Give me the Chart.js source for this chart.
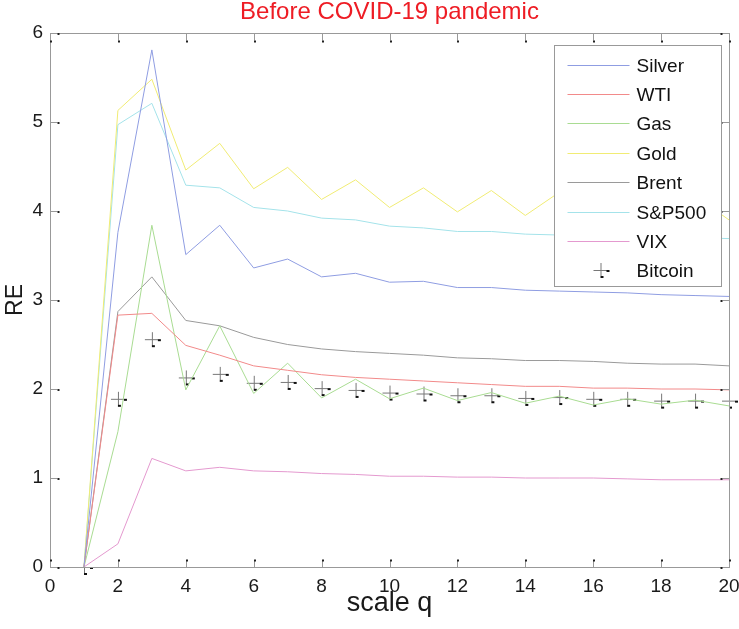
<!DOCTYPE html>
<html>
<head>
<meta charset="utf-8">
<title>Before COVID-19 pandemic</title>
<script src="https://cdn.jsdelivr.net/npm/chart.js@4.4.0/dist/chart.umd.min.js"></script>
<style>
	body { margin: 0; background: #fff; }
	canvas { display: block; }
</style>
</head>
<body>
<canvas id="myChart" width="739" height="629"></canvas>
<script>
	// values, one entry per scale q
	var scaleQ = [1, 2, 3, 4, 5, 6, 7, 8, 9, 10, 11, 12, 13, 14, 15, 16, 17, 18, 19, 20];

	var silver  = [0, 3.76, 5.81, 3.51, 3.84, 3.36, 3.46, 3.26, 3.30, 3.20, 3.21, 3.14, 3.14, 3.11, 3.10, 3.09, 3.08, 3.06, 3.05, 3.04];
	var wti     = [0, 2.83, 2.85, 2.49, 2.38, 2.26, 2.21, 2.16, 2.13, 2.11, 2.09, 2.07, 2.05, 2.03, 2.03, 2.01, 2.01, 2.00, 2.00, 1.99];
	var gas     = [0, 1.52, 3.84, 1.99, 2.71, 1.95, 2.29, 1.90, 2.11, 1.89, 2.01, 1.87, 1.96, 1.84, 1.92, 1.82, 1.89, 1.83, 1.875, 1.81];
	var gold    = [0, 5.13, 5.48, 4.46, 4.76, 4.25, 4.49, 4.13, 4.35, 4.04, 4.26, 3.99, 4.23, 3.95, 4.21, 3.93, 4.19, 3.91, 4.17, 3.90];
	var brent   = [0, 2.87, 3.26, 2.77, 2.71, 2.58, 2.50, 2.45, 2.42, 2.40, 2.38, 2.35, 2.34, 2.32, 2.32, 2.31, 2.29, 2.28, 2.28, 2.26];
	var sp500   = [0, 4.97, 5.21, 4.29, 4.26, 4.04, 4.00, 3.92, 3.90, 3.83, 3.81, 3.77, 3.77, 3.74, 3.73, 3.72, 3.71, 3.70, 3.70, 3.69];
	var vix     = [0, 0.26, 1.22, 1.08, 1.12, 1.08, 1.07, 1.05, 1.04, 1.02, 1.02, 1.01, 1.01, 1.00, 1.00, 1.00, 0.99, 0.98, 0.98, 0.98];
	var bitcoin = [0, 1.89, 2.56, 2.13, 2.17, 2.07, 2.08, 2.01, 1.99, 1.96, 1.95, 1.93, 1.93, 1.90, 1.91, 1.89, 1.89, 1.87, 1.87, 1.87];

	var seriesNames = ['Silver', 'WTI', 'Gas', 'Gold', 'Brent', 'S&P500', 'VIX', 'Bitcoin'];
	var seriesColors = ['#8f9de2', '#f28a8a', '#a9dc92', '#f1ec74', '#9a9a9a', '#a4e3ea', '#e499cf', '#555555'];
	var seriesValues = [silver, wti, gas, gold, brent, sp500, vix, bitcoin];

	var xTicks = [0, 2, 4, 6, 8, 10, 12, 14, 16, 18, 20];
	var yTicks = [0, 1, 2, 3, 4, 5, 6];

	var FONT = "'Liberation Sans', Arial, Helvetica, sans-serif";
	var AXIS_GRAY = '#999999';

	function toPoints(vals) {
		return vals.map(function(v, i) { return { x: scaleQ[i], y: v }; });
	}

	// the '+' marker used for Bitcoin, with the little dark dashes of the original export
	function makeCrossMarker() {
		var c = document.createElement('canvas');
		c.width = 22;
		c.height = 22;
		var g = c.getContext('2d');
		g.strokeStyle = '#777';
		g.lineWidth = 1;
		g.beginPath();
		g.moveTo(4, 11.5); g.lineTo(18, 11.5);
		g.moveTo(11.5, 4); g.lineTo(11.5, 18);
		g.stroke();
		g.fillStyle = '#111';
		g.fillRect(17, 11, 3, 2);
		g.fillRect(11, 17, 3, 2);
		return c;
	}
	var crossMarker = makeCrossMarker();

	var datasets = seriesNames.map(function(name, i) {
		var ds = {
			label: name,
			data: toPoints(seriesValues[i]),
			borderColor: seriesColors[i],
			backgroundColor: seriesColors[i],
			borderWidth: 1,
			pointRadius: 0,
			tension: 0
		};
		if (name === 'Bitcoin') {
			ds.showLine = false;
			ds.pointRadius = 6;
			ds.pointStyle = crossMarker;
			ds.clip = false;
		}
		return ds;
	});

	// box, inward ticks on all four sides (matlab style)
	var framePlugin = {
		id: 'frame',
		afterDatasetsDraw: function(chart) {
			var ctx = chart.ctx;
			var a = chart.chartArea;
			var xs = chart.scales.x, ys = chart.scales.y;
			var L = Math.round(a.left) + 0.5, R = Math.round(a.right) + 0.5;
			var T = Math.round(a.top) + 0.5, B = Math.round(a.bottom) + 0.5;
			ctx.save();
			ctx.strokeStyle = AXIS_GRAY;
			ctx.lineWidth = 1;
			ctx.strokeRect(L, T, R - L, B - T);
			ctx.beginPath();
			xTicks.forEach(function(t) {
				var px = Math.round(xs.getPixelForValue(t)) + 0.5;
				ctx.moveTo(px, B); ctx.lineTo(px, B - 7);
				ctx.moveTo(px, T); ctx.lineTo(px, T + 7);
			});
			yTicks.forEach(function(t) {
				var py = Math.round(ys.getPixelForValue(t)) + 0.5;
				ctx.moveTo(L, py); ctx.lineTo(L + 7, py);
				ctx.moveTo(R, py); ctx.lineTo(R - 7, py);
			});
			ctx.stroke();
			ctx.fillStyle = '#222';
			xTicks.forEach(function(t) {
				var px = Math.round(xs.getPixelForValue(t));
				ctx.fillRect(px, B - 8, 2, 2);
				ctx.fillRect(px, T + 7, 2, 2);
			});
			yTicks.forEach(function(t) {
				var py = Math.round(ys.getPixelForValue(t));
				ctx.fillRect(L + 7, py, 2, 2);
				ctx.fillRect(R - 9, py, 2, 2);
			});
			ctx.restore();
		}
	};

	// legend box inside the axes, drawn over the lines
	var boxLegendPlugin = {
		id: 'boxLegend',
		afterDraw: function(chart) {
			var ctx = chart.ctx;
			var a = chart.chartArea;
			var w = 167, h = 241;
			var left = Math.round(a.right - 8 - w) + 0.5;
			var top = Math.round(a.top + 12) + 0.5;
			ctx.save();
			ctx.fillStyle = '#fff';
			ctx.fillRect(left, top, w, h);
			ctx.strokeStyle = AXIS_GRAY;
			ctx.lineWidth = 1;
			ctx.strokeRect(left, top, w, h);
			ctx.font = '19px ' + FONT;
			ctx.textBaseline = 'middle';
			ctx.textAlign = 'left';
			chart.data.datasets.forEach(function(ds, i) {
				var y = Math.round(top + 19 + i * 29.4) + 0.5;
				if (ds.showLine === false) {
					ctx.drawImage(crossMarker, left + 46 - 11, y - 11.5);
				} else {
					ctx.strokeStyle = ds.borderColor;
					ctx.beginPath();
					ctx.moveTo(left + 13, y);
					ctx.lineTo(left + 75, y);
					ctx.stroke();
				}
				ctx.fillStyle = '#111';
				ctx.fillText(ds.label, left + 82, y + 1);
			});
			ctx.restore();
		}
	};

	var ctx = document.getElementById('myChart').getContext('2d');
	var chart = new Chart(ctx, {
		type: 'line',
		data: { datasets: datasets },
		options: {
			responsive: false,
			animation: false,
			devicePixelRatio: 1,
			layout: { padding: { left: 0, right: 10, top: 0, bottom: 0 } },
			plugins: {
				legend: { display: false },
				tooltip: { enabled: false },
				title: {
					display: true,
					fullSize: false,
					text: 'Before COVID-19 pandemic',
					color: '#ee1c24',
					font: { family: FONT, size: 24, weight: 'normal', lineHeight: 1.0 },
					padding: { top: 0, bottom: 9 }
				}
			},
			scales: {
				x: {
					type: 'linear',
					min: 0,
					max: 20,
					grid: { display: false, drawTicks: false },
					border: { display: false },
					afterFit: function(scale) {
						scale.height = 62;
						scale.paddingLeft = 0;
						scale.paddingRight = 0;
					},
					afterBuildTicks: function(scale) {
						scale.ticks = xTicks.map(function(v) { return { value: v }; });
					},
					ticks: {
						color: '#1a1a1a',
						padding: 8,
						maxRotation: 0,
						font: { family: FONT, size: 19 }
					},
					title: {
						display: true,
						text: 'scale q',
						color: '#1a1a1a',
						font: { family: FONT, size: 27 },
						padding: { top: 0, bottom: 9 }
					}
				},
				y: {
					min: 0,
					max: 6,
					grid: { display: false, drawTicks: false },
					border: { display: false },
					afterFit: function(scale) { scale.width = 50; },
					afterBuildTicks: function(scale) {
						scale.ticks = yTicks.map(function(v) { return { value: v }; });
					},
					ticks: {
						color: '#1a1a1a',
						padding: 7,
						font: { family: FONT, size: 19 }
					},
					title: {
						display: true,
						text: 'RE',
						color: '#1a1a1a',
						font: { family: FONT, size: 23 },
						padding: { top: 2, bottom: 0 }
					}
				}
			}
		},
		plugins: [framePlugin, boxLegendPlugin]
	});
</script>
</body>
</html>
